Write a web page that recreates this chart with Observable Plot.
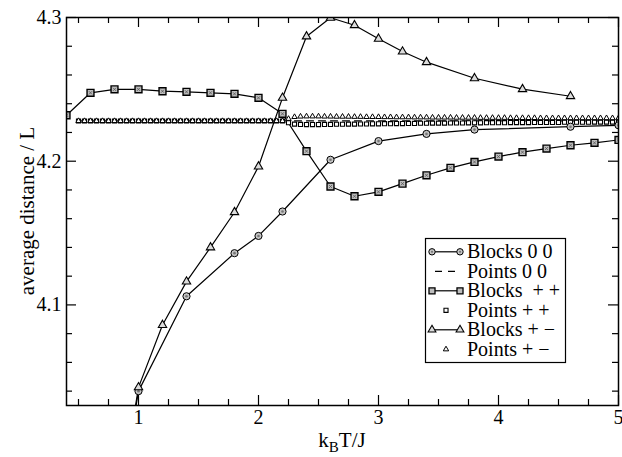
<!DOCTYPE html>
<html><head><meta charset="utf-8">
<script src="https://cdn.jsdelivr.net/npm/d3@7"></script>
<script src="https://cdn.jsdelivr.net/npm/@observablehq/plot@0.6"></script>
<style>
body{margin:0;background:#fff;}
#chart{width:622px;height:457px;}
#chart svg, #chart svg text, #chart svg tspan{font-family:"Liberation Serif",serif !important;}
</style></head><body><div id="chart"></div>
<script>
// ---- data ----
const blocks00X = [0.8, 1.0, 1.4, 1.8, 2.0, 2.2, 2.6, 3.0, 3.4, 3.8, 4.6, 5.0];
const blocks00Y = [3.94, 4.040, 4.106, 4.136, 4.148, 4.165, 4.201, 4.214, 4.219, 4.222, 4.224, 4.225];

const blocksPPX = [0.4, 0.6, 0.8, 1.0, 1.2, 1.4, 1.6, 1.8, 2.0, 2.2, 2.4, 2.6, 2.8, 3.0, 3.2, 3.4, 3.6, 3.8, 4.0, 4.2, 4.4, 4.6, 4.8, 5.0];
const blocksPPY = [4.232, 4.2476, 4.250, 4.250, 4.2487, 4.2483, 4.2476, 4.2469, 4.2441, 4.233, 4.207, 4.1824, 4.1756, 4.1787, 4.1844, 4.1902, 4.1954, 4.1995, 4.2032, 4.2063, 4.2088, 4.2111, 4.2128, 4.2148];

const blocksPMX = [0.8, 1.0, 1.2, 1.4, 1.6, 1.8, 2.0, 2.2, 2.4, 2.6, 2.8, 3.0, 3.2, 3.4, 3.8, 4.2, 4.6];
const blocksPMY = [3.94, 4.0426, 4.086, 4.1162, 4.140, 4.1645, 4.1963, 4.2441, 4.2868, 4.2998, 4.2946, 4.2852, 4.2763, 4.2689, 4.2577, 4.2501, 4.2452];

const points00X = [0.5, 5.0];
const points00Y = [4.228, 4.228];

const pointsX = [
  0.5,0.55,0.6,0.65,0.7,0.75,0.8,0.85,0.9,0.95,
  1.0,1.05,1.1,1.15,1.2,1.25,1.3,1.35,1.4,1.45,
  1.5,1.55,1.6,1.65,1.7,1.75,1.8,1.85,1.9,1.95,
  2.0,2.05,2.1,2.15,2.2,2.25,2.3,2.35,2.4,2.45,
  2.5,2.55,2.6,2.65,2.7,2.75,2.8,2.85,2.9,2.95,
  3.0,3.05,3.1,3.15,3.2,3.25,3.3,3.35,3.4,3.45,
  3.5,3.55,3.6,3.65,3.7,3.75,3.8,3.85,3.9,3.95,
  4.0,4.05,4.1,4.15,4.2,4.25,4.3,4.35,4.4,4.45,
  4.5,4.55,4.6,4.65,4.7,4.75,4.8,4.85,4.9,4.95,
  5.0];
const pointsPPY = [
  4.228,4.228,4.228,4.228,4.228,4.228,4.228,4.228,4.228,4.228,
  4.228,4.228,4.228,4.228,4.228,4.228,4.228,4.228,4.228,4.228,
  4.228,4.228,4.228,4.228,4.228,4.228,4.228,4.228,4.228,4.228,
  4.228,4.228,4.228,4.228,4.228,4.2268,4.2258,4.2256,4.2255,4.2255,
  4.2255,4.2256,4.2256,4.2257,4.2257,4.2258,4.2258,4.2259,4.2259,4.226,
  4.226,4.2261,4.2261,4.2262,4.2262,4.2263,4.2263,4.2264,4.2264,4.2265,
  4.2265,4.2265,4.2266,4.2266,4.2266,4.2267,4.2267,4.2267,4.2268,4.2268,
  4.2268,4.2268,4.2269,4.2269,4.2269,4.2269,4.227,4.227,4.227,4.227,
  4.227,4.2271,4.2271,4.2271,4.2271,4.2271,4.2272,4.2272,4.2272,4.2272,
  4.2272];
const pointsPMY = [
  4.228,4.228,4.228,4.228,4.228,4.228,4.228,4.228,4.228,4.228,
  4.228,4.228,4.228,4.228,4.228,4.228,4.228,4.228,4.228,4.228,
  4.228,4.228,4.228,4.228,4.228,4.228,4.228,4.228,4.228,4.228,
  4.228,4.228,4.228,4.228,4.228,4.2295,4.2308,4.2311,4.2312,4.2312,
  4.2312,4.2311,4.2311,4.231,4.231,4.231,4.2309,4.2309,4.2308,4.2308,
  4.2308,4.2307,4.2307,4.2306,4.2306,4.2306,4.2305,4.2305,4.2305,4.2304,
  4.2304,4.2304,4.2304,4.2303,4.2303,4.2303,4.2303,4.2302,4.2302,4.2302,
  4.2302,4.2302,4.2301,4.2301,4.2301,4.2301,4.2301,4.23,4.23,4.23,
  4.23,4.23,4.23,4.23,4.23,4.23,4.23,4.23,4.23,4.23,
  4.23];

const xMajorTicks = [1, 2, 3, 4, 5];
const xMinorTicks = [0.5, 0.75, 1.25, 1.5, 1.75, 2.25, 2.5, 2.75, 3.25, 3.5, 3.75, 4.25, 4.5, 4.75];
const yMajorTicks = [4.1, 4.2, 4.3];
const yMinorTicks = [4.04, 4.06, 4.08, 4.12, 4.14, 4.16, 4.18, 4.22, 4.24, 4.26, 4.28];

const legendLabels = ["Blocks 0 0", "Points 0 0", "Blocks  + +", "Points + +", "Blocks + \u2212", "Points + \u2212"];

// ---- build tables ----
const zipXY = (xs, ys) => xs.map((x, i) => ({x, y: ys[i]}));
const b00 = zipXY(blocks00X, blocks00Y);
const bPP = zipXY(blocksPPX, blocksPPY);
const bPM = zipXY(blocksPMX, blocksPMY);
const p00 = zipXY(points00X, points00Y);
const pPP = zipXY(pointsX, pointsPPY);
const pPM = zipXY(pointsX, pointsPMY);

const W = 622, H = 457, mL = 66, mR = 4, mT = 17, mB = 52;
const innerW = W - mL - mR, innerH = H - mT - mB;
const font = "'Liberation Serif', serif";

const plot = Plot.plot({
  width: W, height: H,
  marginLeft: mL, marginRight: mR, marginTop: mT, marginBottom: mB,
  style: {fontFamily: font, fontSize: "20px", color: "black", background: "white", overflow: "visible"},
  x: {domain: [0.4, 5]},
  y: {domain: [4.03, 4.3]},
  marks: [
    // inward ticks, all four sides
    Plot.tickX(xMajorTicks, {x: d => d, insetTop: innerH - 10, stroke: "black", strokeWidth: 1.2}),
    Plot.tickX(xMajorTicks, {x: d => d, insetBottom: innerH - 10, stroke: "black", strokeWidth: 1.2}),
    Plot.tickX(xMinorTicks, {x: d => d, insetTop: innerH - 6, stroke: "black", strokeWidth: 1.2}),
    Plot.tickX(xMinorTicks, {x: d => d, insetBottom: innerH - 6, stroke: "black", strokeWidth: 1.2}),
    Plot.tickY(yMajorTicks, {y: d => d, insetRight: innerW - 10, stroke: "black", strokeWidth: 1.2}),
    Plot.tickY(yMajorTicks, {y: d => d, insetLeft: innerW - 10, stroke: "black", strokeWidth: 1.2}),
    Plot.tickY(yMinorTicks, {y: d => d, insetRight: innerW - 6, stroke: "black", strokeWidth: 1.2}),
    Plot.tickY(yMinorTicks, {y: d => d, insetLeft: innerW - 6, stroke: "black", strokeWidth: 1.2}),
    // tick labels
    Plot.axisX(xMajorTicks, {anchor: "bottom", tickSize: 0, tickPadding: 4, label: null, fontSize: 20, tickFormat: d3.format("d")}),
    Plot.axisY(yMajorTicks, {anchor: "left", tickSize: 0, tickPadding: 5, label: null, fontSize: 20, tickFormat: d3.format(".1f")}),
    // Points 0 0 dashed line
    Plot.line(p00, {x: "x", y: "y", stroke: "black", strokeWidth: 1.3, strokeDasharray: "7,5", clip: true}),
    // Blocks lines
    Plot.line(b00, {x: "x", y: "y", stroke: "black", strokeWidth: 1.2, clip: true}),
    Plot.line(bPP, {x: "x", y: "y", stroke: "black", strokeWidth: 1.2, clip: true}),
    Plot.line(bPM, {x: "x", y: "y", stroke: "black", strokeWidth: 1.2, clip: true}),
    // Points markers
    Plot.dot(pPP, {x: "x", y: "y", symbol: "square", r: 2.3, fill: "white", stroke: "black", strokeWidth: 1.1, clip: true}),
    Plot.dot(pPM, {x: "x", y: "y", symbol: "triangle", r: 2.0, fill: "white", stroke: "black", strokeWidth: 1.0, clip: true}),
    // Blocks markers
    Plot.dot(b00, {x: "x", y: "y", r: 3.6, fill: "#c4c4c4", stroke: "black", strokeWidth: 1, clip: true}),
    Plot.dot(b00, {x: "x", y: "y", r: 1.3, fill: "#777", clip: true}),
    Plot.dot(bPP, {x: "x", y: "y", symbol: "square", r: 3.9, fill: "#bdbdbd", stroke: "black", strokeWidth: 1.4, clip: true}),
    Plot.dot(bPP, {x: "x", y: "y", symbol: "times", r: 1.6, stroke: "#555", strokeWidth: 0.8, clip: true}),
    Plot.dot(bPM, {x: "x", y: "y", symbol: "triangle", r: 3.1, fill: "#dcdcdc", stroke: "black", strokeWidth: 1.1, clip: true}),
    Plot.frame({stroke: "black", strokeWidth: 1.5})
  ]
});

document.getElementById("chart").appendChild(plot);
const svg = d3.select(plot);

// axis titles
svg.append("text")
  .attr("x", mL + innerW / 2).attr("y", 447)
  .attr("text-anchor", "middle").attr("font-size", 21).attr("fill", "black")
  .call(t => {
    t.append("tspan").text("k");
    t.append("tspan").attr("font-size", 15).attr("dy", 5).text("B");
    t.append("tspan").attr("dy", -5).text("T/J");
  });
svg.append("text")
  .attr("transform", `translate(34,${mT + innerH / 2}) rotate(-90)`)
  .attr("text-anchor", "middle").attr("font-size", 21).attr("fill", "black")
  .text("average distance / L");

// legend
const lg = svg.append("g").attr("font-size", 20).attr("fill", "black").attr("text-anchor", "start");
lg.append("rect").attr("x", 425.5).attr("y", 238.5).attr("width", 140).attr("height", 124)
  .attr("fill", "white").attr("stroke", "black").attr("stroke-width", 1.2);
const rowY = i => 251.8 + i * 19.5;
const sym = (type, r) => d3.symbol(type, Math.PI * r * r)();
legendLabels.forEach((lab, i) => {
  const cy = rowY(i);
  lg.append("text").attr("x", 467).attr("y", cy + 6.5).attr("text-anchor", "start").text(lab);
});
// row 0: Blocks 0 0
lg.append("line").attr("x1", 432).attr("x2", 460).attr("y1", rowY(0)).attr("y2", rowY(0)).attr("stroke", "black").attr("stroke-width", 1.2);
[432, 460].forEach(x => {
  lg.append("circle").attr("cx", x).attr("cy", rowY(0)).attr("r", 3.2).attr("fill", "#c4c4c4").attr("stroke", "black");
  lg.append("circle").attr("cx", x).attr("cy", rowY(0)).attr("r", 1.1).attr("fill", "#777");
});
// row 1: Points 0 0
lg.append("line").attr("x1", 435).attr("x2", 457).attr("y1", rowY(1)).attr("y2", rowY(1)).attr("stroke", "black").attr("stroke-width", 1.3).attr("stroke-dasharray", "7,6");
// row 2: Blocks + +
lg.append("line").attr("x1", 432).attr("x2", 460).attr("y1", rowY(2)).attr("y2", rowY(2)).attr("stroke", "black").attr("stroke-width", 1.2);
[432, 460].forEach(x => {
  lg.append("path").attr("d", sym(d3.symbolSquare, 3.4)).attr("transform", `translate(${x},${rowY(2)})`).attr("fill", "#bdbdbd").attr("stroke", "black").attr("stroke-width", 1.3);
});
// row 3: Points + +
lg.append("path").attr("d", sym(d3.symbolSquare, 2.3)).attr("transform", `translate(446,${rowY(3)})`).attr("fill", "white").attr("stroke", "black").attr("stroke-width", 1.1);
// row 4: Blocks + -
lg.append("line").attr("x1", 432).attr("x2", 460).attr("y1", rowY(4)).attr("y2", rowY(4)).attr("stroke", "black").attr("stroke-width", 1.2);
[432, 460].forEach(x => {
  lg.append("path").attr("d", sym(d3.symbolTriangle, 2.9)).attr("transform", `translate(${x},${rowY(4)})`).attr("fill", "#dcdcdc").attr("stroke", "black").attr("stroke-width", 1.1);
});
// row 5: Points + -
lg.append("path").attr("d", sym(d3.symbolTriangle, 2.0)).attr("transform", `translate(446,${rowY(5)})`).attr("fill", "white").attr("stroke", "black").attr("stroke-width", 1.0);
</script>
</body></html>
